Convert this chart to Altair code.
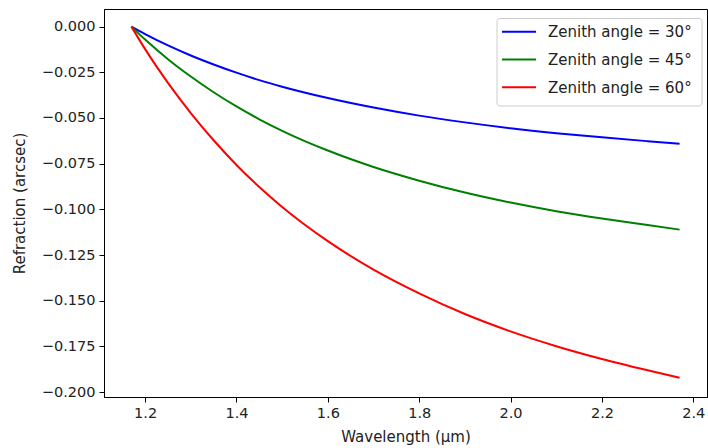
import altair as alt
import pandas as pd

# Wavelength grid (µm) and differential refraction (arcsec) per zenith angle
wavelength = [1.17, 1.20, 1.25, 1.30, 1.35, 1.40, 1.45, 1.50, 1.60, 1.70,
              1.80, 1.90, 2.00, 2.10, 2.20, 2.30, 2.37]
refr_30 = [0.0, -0.0041, -0.0103, -0.0158, -0.0207, -0.0252, -0.0293, -0.0329,
           -0.0391, -0.0443, -0.0487, -0.0524, -0.0556, -0.0583, -0.0606,
           -0.0627, -0.0641]
refr_45 = [0.0, -0.0071, -0.0178, -0.0273, -0.0359, -0.0437, -0.0507, -0.0570,
           -0.0678, -0.0768, -0.0843, -0.0908, -0.0963, -0.1010, -0.1050,
           -0.1086, -0.1111]
refr_60 = [0.0, -0.0123, -0.0308, -0.0473, -0.0622, -0.0757, -0.0878, -0.0987,
           -0.1174, -0.1330, -0.1460, -0.1573, -0.1668, -0.1749, -0.1819,
           -0.1881, -0.1922]

series_names = ["Zenith angle = 30°", "Zenith angle = 45°", "Zenith angle = 60°"]
series_colors = ["#0000ff", "#008000", "#ff0000"]

rows = []
for name, vals in zip(series_names, [refr_30, refr_45, refr_60]):
    for w, v in zip(wavelength, vals):
        rows.append({"wavelength": w, "refraction": v, "series": name})
df = pd.DataFrame(rows)

FONT = "DejaVu Sans"
MINUS = "\u2212"

lines = (
    alt.Chart(df)
    .mark_line(strokeWidth=2, interpolate="monotone")
    .encode(
        x=alt.X(
            "wavelength:Q",
            scale=alt.Scale(domain=[1.11, 2.43], nice=False, zero=False),
            axis=alt.Axis(
                title="Wavelength (μm)",
                values=[1.2, 1.4, 1.6, 1.8, 2.0, 2.2, 2.4],
                format=".1f",
                titlePadding=10,
            ),
        ),
        y=alt.Y(
            "refraction:Q",
            scale=alt.Scale(domain=[-0.2027, 0.00965], nice=False, zero=False),
            axis=alt.Axis(
                title="Refraction (arcsec)",
                values=[0.0, -0.025, -0.05, -0.075, -0.1, -0.125, -0.15, -0.175, -0.2],
                labelExpr=f"replace(format(datum.value, '.3f'), '-', '{MINUS}')",
                titlePadding=14,
            ),
        ),
        color=alt.Color(
            "series:N",
            scale=alt.Scale(domain=series_names, range=series_colors),
            legend=None,
        ),
    )
)

# Legend box in the upper-right corner of the plot area
legend_box = (
    alt.Chart(pd.DataFrame({"k": [0]}))
    .mark_rect(fill="white", fillOpacity=0.8, stroke="#cccccc", strokeWidth=1,
               cornerRadius=3)
    .encode(x=alt.value(393), x2=alt.value(598), y=alt.value(9.5), y2=alt.value(97))
)

legend_layers = [legend_box]
for i, (name, color) in enumerate(zip(series_names, series_colors)):
    row_y = 22.7 + 27.8 * i
    entry = pd.DataFrame({"label": [name]})
    legend_layers.append(
        alt.Chart(entry)
        .mark_rule(color=color, strokeWidth=2)
        .encode(x=alt.value(398), x2=alt.value(432), y=alt.value(row_y))
    )
    legend_layers.append(
        alt.Chart(entry)
        .mark_text(align="left", baseline="middle", font=FONT, fontSize=15,
                   color="#222222")
        .encode(x=alt.value(444), y=alt.value(row_y + 0.5), text="label:N")
    )

chart = (
    alt.layer(lines, *legend_layers)
    .properties(
        width=603,
        height=388,
        autosize=alt.AutoSizeParams(type="none"),
        padding={"left": 104, "top": 9, "right": 1, "bottom": 51},
        background="white",
    )
    .configure_view(stroke="black", strokeWidth=1)
    .configure_axis(
        grid=False,
        domain=True,
        domainColor="black",
        domainWidth=1,
        tickColor="black",
        tickSize=5,
        tickWidth=1,
        labelFont=FONT,
        labelFontSize=14.5,
        labelColor="#222222",
        labelPadding=4,
        titleFont=FONT,
        titleFontSize=15,
        titleFontWeight="normal",
        titleColor="#222222",
    )
)

chart.save("out.html", embed_options={"renderer": "svg", "actions": False})
